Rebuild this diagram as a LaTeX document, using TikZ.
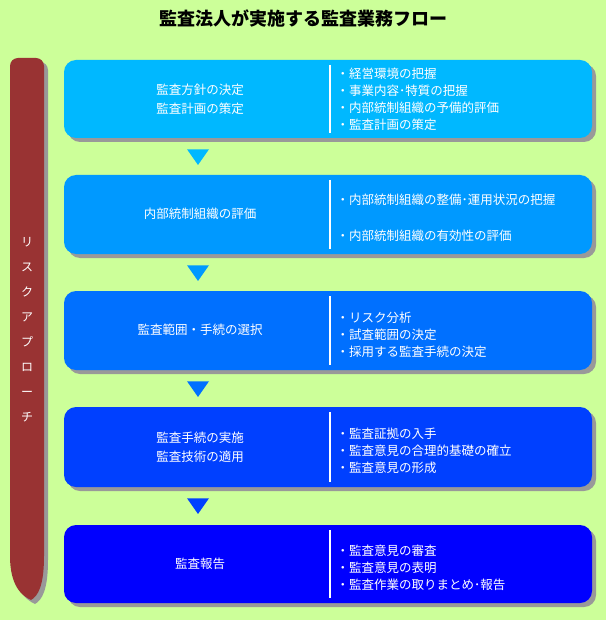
\documentclass[tikz,border=0pt]{standalone}
\usepackage{fontspec}
\setmainfont{Noto Sans CJK JP}
\usetikzlibrary{shapes.geometric}
\definecolor{bg}{HTML}{CCFF99}
\definecolor{c1}{HTML}{00B8FF}
\definecolor{c2}{HTML}{0099FF}
\definecolor{c3}{HTML}{0070FF}
\definecolor{c4}{HTML}{0040FF}
\definecolor{c5}{HTML}{0000FF}
\definecolor{bar}{HTML}{993333}
\tikzset{
 stagebox/.style={rounded corners=12pt},
 shadowbox/.style={fill=gray!80,rounded corners=12pt},
 lt/.style={text=white,font=\fontsize{12.5}{19}\selectfont,align=center},
 rt/.style={text=white,font=\fontsize{12.5}{17}\selectfont,align=left,anchor=west},
 tri/.style={isosceles triangle,shape border rotate=-90,isosceles triangle apex angle=70,inner sep=0pt,minimum width=22pt,minimum height=15pt}
}
\newcommand{\barpath}[2]{(#1,556+#2) -- (#1,66+#2) arc[start angle=180,end angle=270,radius=8] -- (#1+26,58+#2) arc[start angle=270,end angle=360,radius=8] -- (#1+34,556+#2) .. controls (#1+34,586+#2) and (#1+28,596+#2) .. (#1+21,600+#2) .. controls (#1+12,596+#2) and (#1,586+#2) .. (#1,556+#2) -- cycle}
\begin{document}
\begin{tikzpicture}[x=1pt,y=-1pt]
\fill[bg] (0,0) rectangle (606,620);
\useasboundingbox (0,0) rectangle (606,620);
\node[font=\fontsize{18}{20}\selectfont\bfseries] (title) at (303,18) {監査法人が実施する監査業務フロー};
\fill[gray!80] \barpath{14}{4};
\fill[bar] \barpath{10}{0};
\node[text=white,font=\fontsize{12}{25}\selectfont,align=center] (risk) at (27,330) {リ\\ス\\ク\\ア\\プ\\ロ\\ー\\チ};
\foreach \t/\b/\c [count=\i] in {60/138/c1,175/254/c2,291/370/c3,407/487/c4,525/603/c5}{
 \fill[shadowbox] (68,\t+4) rectangle (596,\b+4);
 \fill[\c,stagebox] (64,\t) rectangle (592,\b);
 \draw[white,line width=1.2pt] (330,\t+5) -- (330,\b-5);
}
\node[lt] (l1) at (200,99) {監査方針の決定\\監査計画の策定};
\node[lt] (l2) at (200,214) {内部統制組織の評価};
\node[lt] (l3) at (200,330) {監査範囲・手続の選択};
\node[lt] (l4) at (200,447) {監査手続の実施\\監査技術の適用};
\node[lt] (l5) at (200,564) {監査報告};
\node[rt] (r1) at (333,99) {・経営環境の把握\\・事業内容･特質の把握\\・内部統制組織の予備的評価\\・監査計画の策定};
\node[rt,font=\fontsize{12.5}{36}\selectfont] (r2) at (333,218) {・内部統制組織の整備･運用状況の把握\\・内部統制組織の有効性の評価};
\node[rt] (r3) at (333,335) {・リスク分析\\・試査範囲の決定\\・採用する監査手続の決定};
\node[rt] (r4) at (333,451) {・監査証拠の入手\\・監査意見の合理的基礎の確立\\・監査意見の形成};
\node[rt] (r5) at (333,568) {・監査意見の審査\\・監査意見の表明\\・監査作業の取りまとめ･報告};
\node[tri,fill=c1] (a1) at (198,155) {};
\node[tri,fill=c2] (a2) at (198,271) {};
\node[tri,fill=c3] (a3) at (198,387) {};
\node[tri,fill=c4] (a4) at (198,504) {};
\end{tikzpicture}
\end{document}
